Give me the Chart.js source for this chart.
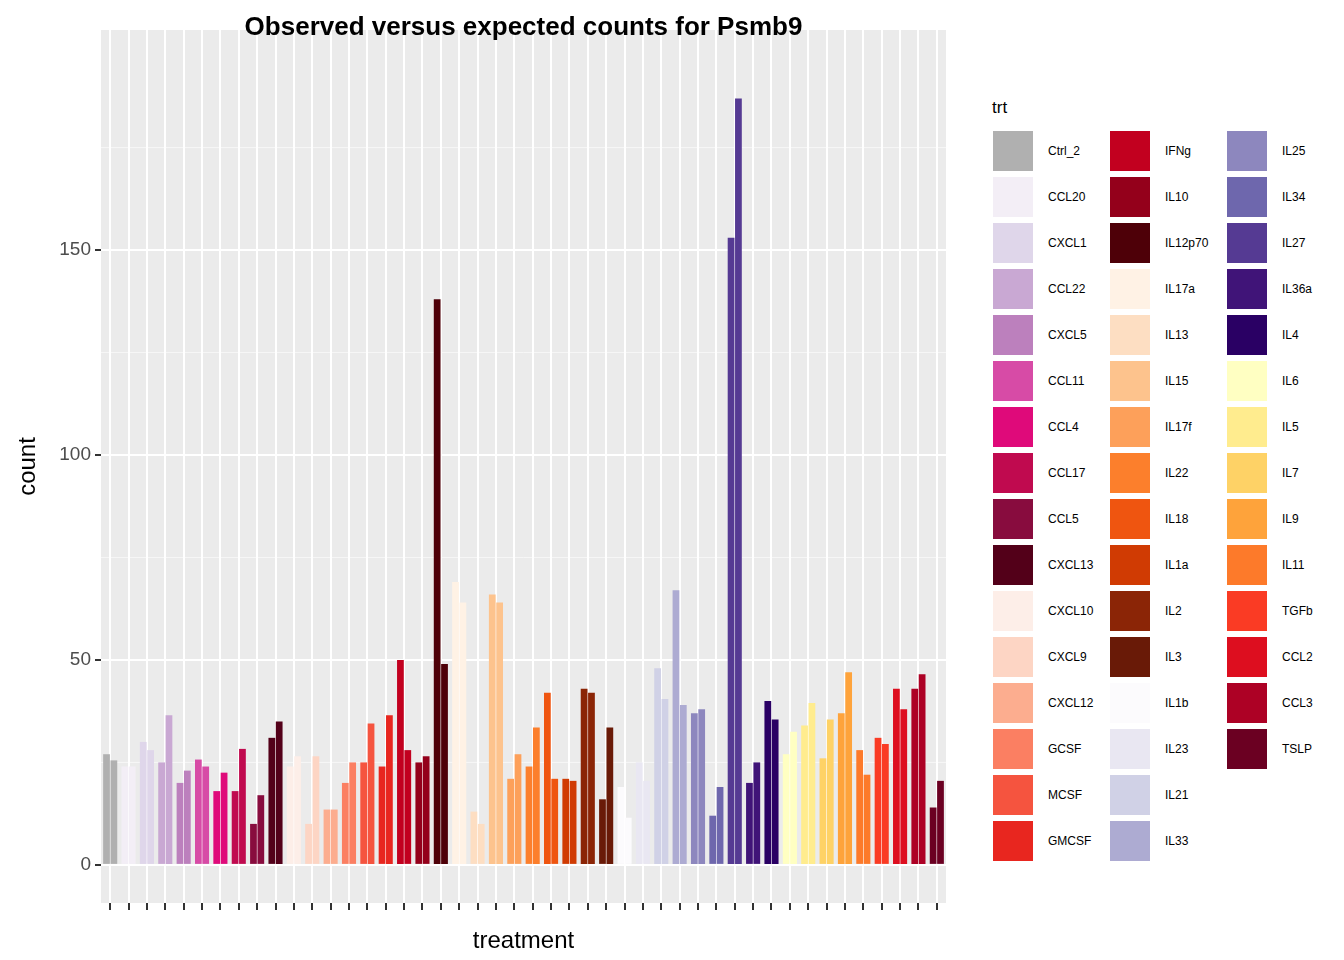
<!DOCTYPE html>
<html>
<head>
<meta charset="utf-8">
<script src="https://cdn.jsdelivr.net/npm/chart.js@4"></script>
<style>
  body { margin: 0; background: #fff; font-family: "Liberation Sans", Arial, sans-serif; }
  #wrap { position: relative; width: 1344px; height: 960px; }
  #c { position: absolute; left: 0; top: 0; }
  #title { position: absolute; left: 101px; width: 845px; top: 11px; text-align: center; font-weight: bold; font-size: 26px; color: #000; }
  #legend { position: absolute; left: 992px; top: 98px; font-size: 12px; }
  .lt { font-size: 17px; color: #000; margin-bottom: 10px; }
  .col { position: absolute; top: 30px; }
  .item { height: 46px; display: flex; align-items: center; }
  .key { width: 42px; height: 42px; background: #ebebeb; border: 1px solid #fff; box-sizing: border-box; display: flex; align-items: center; justify-content: center; }
  .key span { display: block; width: 40px; height: 40px; }
  .lab { margin-left: 14px; color: #000; }
</style>
</head>
<body>
<div id="wrap">
  <canvas id="c" width="960" height="960"></canvas>
  <div id="title">Observed versus expected counts for Psmb9</div>
  <div id="legend"><div class="lt">trt</div></div>
</div>
<script>
var treatments = ["Ctrl_2","CCL20","CXCL1","CCL22","CXCL5","CCL11","CCL4","CCL17","CCL5","CXCL13",
  "CXCL10","CXCL9","CXCL12","GCSF","MCSF","GMCSF","IFNg","IL10","IL12p70","IL17a",
  "IL13","IL15","IL17f","IL22","IL18","IL1a","IL2","IL3","IL1b","IL23",
  "IL21","IL33","IL25","IL34","IL27","IL36a","IL4","IL6","IL5","IL7",
  "IL9","IL11","TGFb","CCL2","CCL3","TSLP"];
var colors = ["#b0b0b0","#f3eef6","#dfd6ea","#c9a8d3","#bc80bd","#d74ba6","#df0a7a","#c00a4f","#880c3e","#530019",
  "#fdeee8","#fdd5c4","#fcad8f","#fb7f62","#f5543f","#e8261f","#c2001f","#94001b","#4e0008","#fff2e5",
  "#fddec2","#fdc38d","#fda05a","#fc7f2c","#ef5510","#d03b03","#8b2506","#691a07","#fcfbfd","#e9e7f2",
  "#d0d1e6","#adabd2","#8d87be","#6e67ad","#553a93","#401478","#2a0064","#ffffc2","#ffec8e","#fed266",
  "#fea33b","#fd7a2a","#fa3b24","#dd0e1f","#ad0125","#6b0022"];
var observed = [27,24,30,25,20,25.7,18,18,10,31,
  24,10,13.5,20,25,24,50,25,138,69,
  13,66,21,24,42,21,43,16,19,25,
  48,67,37,12,153,20,40,27,34,26,
  37,28,31,43,43,14];
var expected = [25.5,24,28,36.5,23,24,22.5,28.3,17,35,
  26.5,26.5,13.5,25,34.5,36.5,28,26.5,49,64,
  10,64,27,33.5,21,20.5,42,33.5,11.5,20.5,
  40.5,39,38,19,187,25,35.5,32.5,39.5,35.5,
  47,22,29.5,38,46.5,20.5];
var yTicks = [0,50,100,150];

// legend
var legend = document.getElementById('legend');
for (var c = 0; c < 3; c++) {
  var col = document.createElement('div');
  col.className = 'col';
  col.style.left = (c * 117) + 'px';
  for (var i = c * 16; i < Math.min(c * 16 + 16, treatments.length); i++) {
    col.innerHTML += '<div class="item"><div class="key"><span style="background:' + colors[i] +
      '"></span></div><div class="lab">' + treatments[i] + '</div></div>';
  }
  legend.appendChild(col);
}

var panelBg = {
  id: 'panelBg',
  beforeDraw: function(chart) {
    var a = chart.chartArea, ctx = chart.ctx;
    ctx.save();
    ctx.fillStyle = '#ebebeb';
    ctx.fillRect(a.left, a.top, a.right - a.left, a.bottom - a.top);
    // minor horizontal lines
    var y = chart.scales.y;
    ctx.strokeStyle = '#f7f7f7';
    ctx.lineWidth = 1;
    [25, 75, 125, 175].forEach(function(v) {
      var p = y.getPixelForValue(v);
      ctx.beginPath(); ctx.moveTo(a.left, p); ctx.lineTo(a.right, p); ctx.stroke();
    });
    ctx.restore();
  }
};

new Chart(document.getElementById('c'), {
  type: 'bar',
  data: {
    labels: treatments.map(function() { return ''; }),
    datasets: [
      { label: 'observed', data: observed, backgroundColor: colors },
      { label: 'expected', data: expected, backgroundColor: colors }
    ]
  },
  options: {
    responsive: false,
    animation: false,
    layout: { padding: { top: 30, right: 14 } },
    plugins: { legend: { display: false }, tooltip: { enabled: false } },
    datasets: { bar: { categoryPercentage: 0.8, barPercentage: 0.92 } },
    scales: {
      x: {
        offset: true,
        grid: { offset: false, color: '#ffffff', lineWidth: 2, tickLength: 7, tickColor: '#333', drawTicks: true },
        border: { display: false },
        ticks: { display: true, font: { size: 1 } },
        title: { display: true, text: 'treatment', color: '#000', font: { size: 24, family: 'Liberation Sans' }, padding: { top: 0 } },
        afterFit: function(s) { s.height = 57; }
      },
      y: {
        min: -9.3, max: 203.7,
        afterBuildTicks: function(s) { s.ticks = yTicks.map(function(v) { return { value: v }; }); },
        grid: { color: '#ffffff', lineWidth: 2, tickLength: 6, tickColor: '#333' },
        border: { display: false },
        ticks: { color: '#4d4d4d', font: { size: 19, family: 'Liberation Sans' }, padding: 4 },
        title: { display: true, text: 'count', color: '#000', font: { size: 24, family: 'Liberation Sans' }, padding: { top: 14, bottom: 8 } },
        afterFit: function(s) { s.width = 101; }
      }
    }
  },
  plugins: [panelBg]
});
</script>
</body>
</html>
